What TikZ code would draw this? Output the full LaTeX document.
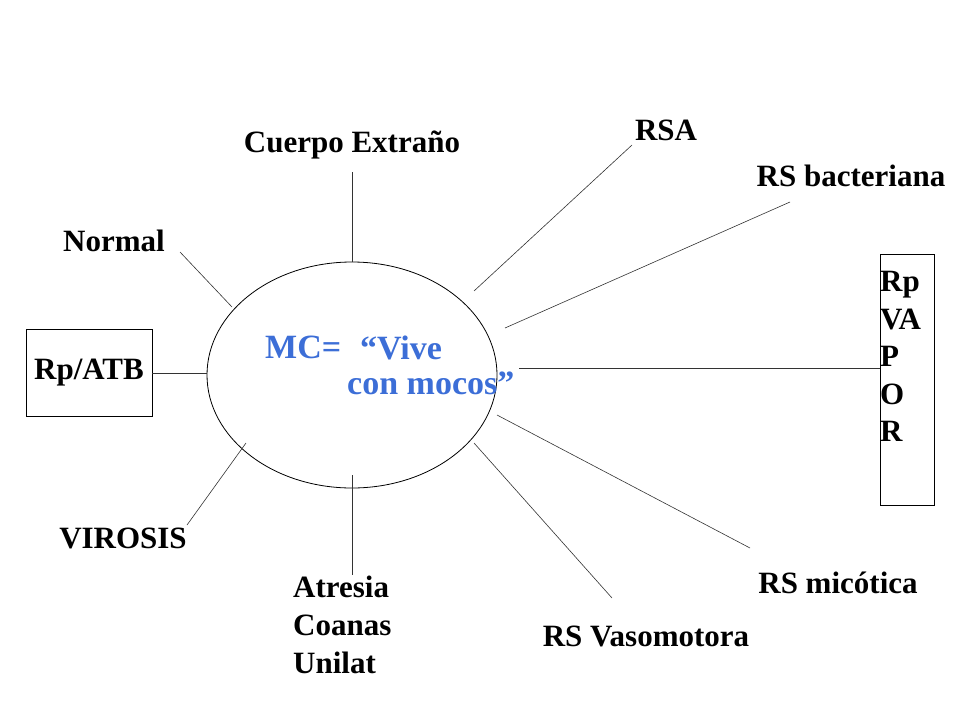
\documentclass[tikz,border=0pt]{standalone}
\usepackage{fontspec}
\usetikzlibrary{shapes.geometric}
\setmainfont{Liberation Serif}
\definecolor{mcblue}{RGB}{60,110,215}
\begin{document}
\begin{tikzpicture}[x=1pt,y=-1pt,
 lbl/.style={font=\fontsize{31}{36}\selectfont\bfseries, inner sep=0pt},
 ln/.style={draw=black!80, line width=0.6pt},
 bx/.style={draw, line width=0.8pt}]
\useasboundingbox (0,0) rectangle (960,720);
\node[draw, line width=0.8pt, ellipse, minimum width=290, minimum height=226, inner sep=0pt] (e) at (352,375) {};
\node[text=mcblue, font=\fontsize{34}{40}\selectfont\bfseries, anchor=north west, inner sep=0pt] (mc) at (265,336) {MC=};
\node[text=mcblue, font=\fontsize{34}{40}\selectfont\bfseries, anchor=north west, inner sep=0pt] (mc2) at (360,336) {``Vive};
\node[text=mcblue, font=\fontsize{34}{40}\selectfont\bfseries, anchor=north west, inner sep=0pt] (mc3) at (347,372) {con mocos''};
\node[lbl] (ce) at (352,145) {Cuerpo Extraño};
\node[lbl] (rsa) at (666,130) {RSA};
\node[lbl] (rsb) at (851,176) {RS bacteriana};
\node[lbl] (nor) at (114,241) {Normal};
\node[lbl, bx, minimum width=126, minimum height=87] (atb) at (89,373) {Rp/ATB};
\node[lbl] (vir) at (123,538) {VIROSIS};
\node[lbl, anchor=north west, align=left, font=\fontsize{31}{38}\selectfont\bfseries] (atr) at (293,576) {Atresia\\Coanas\\Unilat};
\node[lbl] (rsv) at (646,636) {RS Vasomotora};
\node[lbl] (rsm) at (838,583) {RS micótica};
\node[bx, minimum width=54, minimum height=251, inner sep=0pt] (rpb) at (907,379.5) {};
\node[lbl, anchor=north west, align=left, font=\fontsize{31}{37.5}\selectfont\bfseries] (rp) at (880,271) {Rp\\VA\\P\\O\\R};
\coordinate (a1) at (352,172); \coordinate (a2) at (352,262);
\coordinate (b1) at (180,252); \coordinate (b2) at (232,307);
\coordinate (c2) at (207,373);
\coordinate (d1) at (187,525); \coordinate (d2) at (246,443);
\coordinate (f1) at (352,475); \coordinate (f2) at (352,575);
\coordinate (g1) at (474,443); \coordinate (g2) at (612,598);
\coordinate (h1) at (497,415); \coordinate (h2) at (750,548);
\coordinate (i1) at (519,368);
\coordinate (j1) at (505,328); \coordinate (j2) at (790,202);
\coordinate (k1) at (474,291); \coordinate (k2) at (632,145);
\draw[ln] (a1)--(a2); \draw[ln] (b1)--(b2); \draw[ln] (atb.east)--(c2);
\draw[ln] (d1)--(d2); \draw[ln] (f1)--(f2); \draw[ln] (g1)--(g2);
\draw[ln] (h1)--(h2); \draw[ln] (i1)--(i1-|rpb.west); \draw[ln] (j1)--(j2);
\draw[ln] (k1)--(k2);
\end{tikzpicture}
\end{document}
